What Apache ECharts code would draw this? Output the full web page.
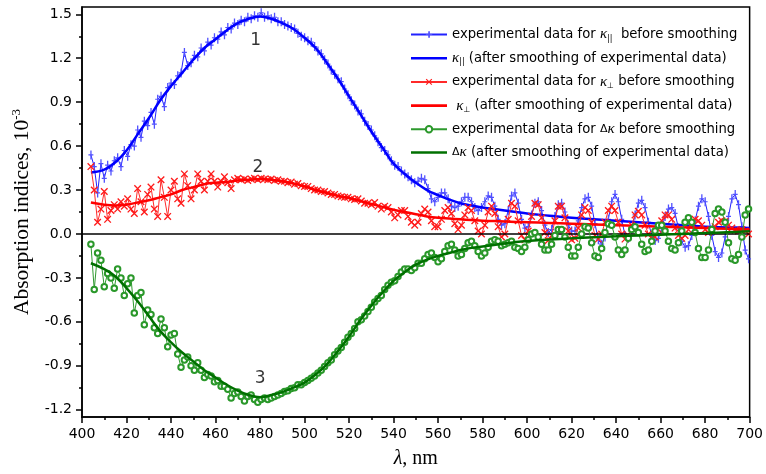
<!DOCTYPE html>
<html>
<head>
<meta charset="utf-8">
<script src="https://cdn.jsdelivr.net/npm/echarts@6/dist/echarts.min.js"></script>
<style>html,body{margin:0;padding:0;background:#fff}#c{width:766px;height:474px}</style>
</head>
<body>
<div id="c"></div>
<script>
// wavelength grid of the experimental data, nm
const lambda = [404,405.5,407,408.5,410,411.5,413,414.5,416,417.5,
419,420.5,422,423.5,425,426.5,428,429.5,431,432.5,
434,435.5,437,438.5,440,441.5,443,444.5,446,447.5,
449,450.5,452,453.5,455,456.5,458,459.5,461,462.5,
464,465.5,467,468.5,470,471.5,473,474.5,476,477.5,
479,480.5,482,483.5,485,486.5,488,489.5,491,492.5,
494,495.5,497,498.5,500,501.5,503,504.5,506,507.5,
509,510.5,512,513.5,515,516.5,518,519.5,521,522.5,
524,525.5,527,528.5,530,531.5,533,534.5,536,537.5,
539,540.5,542,543.5,545,546.5,548,549.5,551,552.5,
554,555.5,557,558.5,560,561.5,563,564.5,566,567.5,
569,570.5,572,573.5,575,576.5,578,579.5,581,582.5,
584,585.5,587,588.5,590,591.5,593,594.5,596,597.5,
599,600.5,602,603.5,605,606.5,608,609.5,611,612.5,
614,615.5,617,618.5,620,621.5,623,624.5,626,627.5,
629,630.5,632,633.5,635,636.5,638,639.5,641,642.5,
644,645.5,647,648.5,650,651.5,653,654.5,656,657.5,
659,660.5,662,663.5,665,666.5,668,669.5,671,672.5,
674,675.5,677,678.5,680,681.5,683,684.5,686,687.5,
689,690.5,692,693.5,695,696.5,698,699.5];

// experimental kappa_parallel (before smoothing)
const kParExp = [0.54,0.46,0.28,0.48,0.38,0.47,0.43,0.50,0.52,0.46,
0.57,0.53,0.61,0.60,0.71,0.66,0.77,0.74,0.83,0.75,
0.92,0.94,0.87,1.00,1.03,1.02,1.08,1.10,1.24,1.15,
1.17,1.22,1.21,1.27,1.25,1.31,1.29,1.34,1.33,1.38,
1.36,1.41,1.40,1.44,1.43,1.46,1.45,1.48,1.47,1.49,
1.48,1.51,1.48,1.49,1.47,1.48,1.45,1.45,1.43,1.42,
1.41,1.40,1.37,1.35,1.34,1.32,1.31,1.28,1.25,1.23,
1.19,1.16,1.12,1.09,1.06,1.04,0.99,0.95,0.91,0.88,
0.84,0.82,0.77,0.74,0.71,0.67,0.63,0.59,0.57,0.54,
0.50,0.47,0.46,0.43,0.41,0.39,0.37,0.35,0.36,0.38,
0.37,0.31,0.24,0.22,0.25,0.28,0.28,0.24,0.19,0.18,
0.19,0.22,0.25,0.25,0.22,0.18,0.16,0.18,0.22,0.26,
0.25,0.19,0.10,0.06,0.07,0.16,0.26,0.28,0.21,0.10,
0.04,0.05,0.13,0.21,0.22,0.16,0.06,0.01,0.03,0.12,
0.20,0.21,0.15,0.06,0.02,0.02,0.09,0.18,0.24,0.25,
0.19,0.07,-0.04,-0.07,-0.02,0.10,0.22,0.27,0.22,0.10,
-0.01,-0.03,0.03,0.13,0.21,0.23,0.18,0.08,-0.01,-0.045,
-0.03,0.04,0.12,0.17,0.18,0.14,0.04,-0.05,-0.09,-0.08,
-0.01,0.09,0.19,0.24,0.22,0.12,-0.01,-0.12,-0.16,-0.13,
-0.02,0.12,0.24,0.27,0.20,0.05,-0.11,-0.17];

// experimental kappa_perp (before smoothing)
const kPerpExp = [0.46,0.30,0.08,0.17,0.29,0.10,0.16,0.20,0.17,0.22,
0.19,0.24,0.17,0.14,0.31,0.22,0.15,0.27,0.32,0.17,
0.12,0.37,0.25,0.12,0.30,0.36,0.24,0.21,0.41,0.33,
0.24,0.30,0.41,0.36,0.30,0.36,0.41,0.36,0.32,0.36,
0.39,0.35,0.31,0.37,0.38,0.37,0.375,0.365,0.375,0.38,
0.37,0.38,0.375,0.37,0.375,0.365,0.37,0.36,0.36,0.35,
0.355,0.34,0.345,0.33,0.325,0.325,0.31,0.30,0.30,0.29,
0.29,0.28,0.27,0.27,0.26,0.255,0.25,0.25,0.24,0.235,
0.24,0.225,0.21,0.21,0.20,0.215,0.19,0.17,0.19,0.18,
0.15,0.11,0.13,0.16,0.16,0.12,0.08,0.06,0.08,0.14,
0.17,0.15,0.09,0.05,0.05,0.10,0.16,0.18,0.14,0.07,
0.03,0.06,0.13,0.18,0.16,0.09,0.02,0.00,0.06,0.15,
0.19,0.14,0.05,-0.02,0.00,0.10,0.21,0.19,0.09,-0.01,
-0.04,0.02,0.12,0.21,0.20,0.11,0.01,-0.045,-0.01,0.09,
0.19,0.19,0.11,0.02,-0.04,-0.03,0.04,0.13,0.18,0.16,
0.08,-0.01,-0.035,0.00,0.08,0.16,0.19,0.16,0.08,0.00,
-0.035,-0.01,0.06,0.13,0.155,0.13,0.06,0.00,-0.03,-0.02,
0.03,0.09,0.13,0.13,0.10,0.04,-0.01,-0.03,-0.01,0.03,
0.07,0.10,0.09,0.06,0.03,0.01,0.02,0.05,0.08,0.09,
0.085,0.06,0.04,0.025,0.02,0.03,0.02,0.00];

// experimental delta kappa (before smoothing)
const dKExp = [-0.07,-0.38,-0.13,-0.18,-0.36,-0.27,-0.30,-0.37,-0.24,-0.30,
-0.42,-0.34,-0.30,-0.54,-0.42,-0.40,-0.62,-0.52,-0.55,-0.64,
-0.68,-0.58,-0.64,-0.77,-0.69,-0.68,-0.82,-0.91,-0.86,-0.84,
-0.90,-0.93,-0.88,-0.93,-0.98,-0.96,-0.97,-1.01,-1.00,-1.04,
-1.04,-1.06,-1.12,-1.09,-1.08,-1.11,-1.14,-1.11,-1.10,-1.13,
-1.15,-1.13,-1.12,-1.13,-1.12,-1.11,-1.10,-1.09,-1.075,-1.07,
-1.055,-1.05,-1.03,-1.03,-1.015,-1.00,-0.985,-0.97,-0.95,-0.93,
-0.905,-0.88,-0.86,-0.825,-0.80,-0.775,-0.74,-0.705,-0.68,-0.645,
-0.60,-0.585,-0.56,-0.53,-0.50,-0.465,-0.44,-0.42,-0.38,-0.35,
-0.33,-0.32,-0.29,-0.26,-0.24,-0.24,-0.25,-0.23,-0.20,-0.20,
-0.17,-0.14,-0.13,-0.16,-0.19,-0.17,-0.12,-0.08,-0.07,-0.11,
-0.15,-0.14,-0.10,-0.06,-0.05,-0.08,-0.12,-0.15,-0.13,-0.09,
-0.05,-0.04,-0.05,-0.08,-0.07,-0.06,-0.05,-0.09,-0.10,-0.12,
-0.09,-0.04,0.00,0.01,-0.02,-0.07,-0.11,-0.11,-0.07,-0.01,
0.03,0.03,-0.02,-0.09,-0.15,-0.15,-0.09,0.00,0.05,0.04,
-0.06,-0.15,-0.16,-0.10,0.01,0.07,0.06,-0.02,-0.11,-0.14,
-0.11,-0.03,0.03,0.05,0.01,-0.07,-0.12,-0.11,-0.05,0.02,
0.06,0.06,0.02,-0.05,-0.10,-0.11,-0.06,0.02,0.08,0.11,
0.08,0.01,-0.10,-0.16,-0.16,-0.11,0.03,0.14,0.17,0.15,
0.08,-0.06,-0.17,-0.18,-0.14,-0.02,0.13,0.17];

// smoothed curves
const smoothLambda = [404,410,415,420,425,430,435,440,445,450,455,460,465,470,475,480,485,490,495,500,
505,510,515,520,525,530,535,540,545,550,555,560,565,570,575,580,585,590,595,600,
610,620,630,640,650,660,670,680,690,700];
const kParSmooth = [0.42,0.44,0.49,0.57,0.68,0.79,0.91,1.01,1.10,1.19,1.27,1.33,1.39,1.44,1.47,1.485,1.47,1.44,1.40,1.34,
1.27,1.17,1.06,0.94,0.82,0.70,0.59,0.48,0.41,0.35,0.30,0.265,0.235,0.21,0.195,0.18,0.17,0.16,0.15,0.14,
0.125,0.11,0.10,0.09,0.08,0.07,0.06,0.05,0.045,0.04];
const kPerpSmooth = [0.215,0.20,0.195,0.20,0.215,0.23,0.25,0.27,0.30,0.32,0.34,0.35,0.355,0.365,0.37,0.375,0.37,0.36,0.345,0.325,
0.30,0.28,0.26,0.245,0.225,0.205,0.185,0.165,0.15,0.135,0.12,0.11,0.105,0.10,0.095,0.09,0.088,0.085,0.082,0.08,
0.075,0.07,0.065,0.06,0.055,0.05,0.045,0.04,0.035,0.03];
const dKSmooth = [-0.20,-0.24,-0.29,-0.37,-0.46,-0.56,-0.66,-0.74,-0.81,-0.87,-0.93,-0.98,-1.03,-1.07,-1.10,-1.115,-1.10,-1.08,-1.05,-1.015,
-0.96,-0.89,-0.80,-0.70,-0.59,-0.49,-0.40,-0.32,-0.26,-0.21,-0.175,-0.15,-0.13,-0.11,-0.095,-0.085,-0.075,-0.065,-0.055,-0.048,
-0.038,-0.03,-0.022,-0.016,-0.01,-0.005,0.0,0.006,0.012,0.018];

// axis ticks
const yMajorTicks = [-1.2,-0.9,-0.6,-0.3,0,0.3,0.6,0.9,1.2,1.5];
const yMinorTicks = [-1.05,-0.75,-0.45,-0.15,0.15,0.45,0.75,1.05,1.35];

// curve number annotations
const annotLambda = [478, 479, 480];
const annotValue = [1.32, 0.45, -0.99];
const annotText = ['1', '2', '3'];

const names = ['expPar','smPar','expPerp','smPerp','expD','smD'];
const legendText = {
  expPar: 'experimental data for {k|κ}{sub|||}  before smoothing',
  smPar: '{k|κ}{sub|||} (after smoothing of experimental data)',
  expPerp: 'experimental data for {k|κ}{sub|⊥} before smoothing',
  smPerp: ' {k|κ}{sub|⊥} (after smoothing of experimental data)',
  expD: 'experimental data for {d|Δ}{k|κ} before smoothing',
  smD: '{d|Δ}{k|κ} (after smoothing of experimental data)'
};
const thickLineIcon = 'path://M0,0h36v2.6h-36z';

const pair = (xs, ys) => xs.map((x, i) => [x, ys[i]]);
const plusSym = 'path://M1.9,0h1.3v9h-1.3z M0,3.9h5v1.2h-5z';
const crossSym = 'path://M0,1L1,0L8,7L7,8Z M7,0L8,1L1,8L0,7Z';
const tickFont = 'DejaVu Sans';

const chart = echarts.init(document.getElementById('c'), null, {renderer: 'canvas'});
chart.setOption({
  animation: false,
  backgroundColor: '#fff',
  grid: {left: 82, right: 10, top: 7, bottom: 56, show: true, borderColor: '#000', borderWidth: 1.5, backgroundColor: 'transparent'},
  legend: {
    data: names.map(n => n.startsWith('sm') ? {name: n, icon: thickLineIcon} : {name: n}),
    orient: 'vertical',
    left: 410, top: 27, padding: 0,
    itemWidth: 36, itemHeight: 8, itemGap: 8.2,
    formatter: n => legendText[n],
    textStyle: {
      fontFamily: 'DejaVu Sans', fontSize: 13.2, color: '#000',
      rich: {
        k: {fontFamily: 'Liberation Serif', fontStyle: 'italic', fontSize: 15, color: '#000'},
        d: {fontFamily: 'DejaVu Sans', fontSize: 11, color: '#000'},
        sub: {fontFamily: 'DejaVu Sans', fontSize: 8, color: '#000', padding: [8, 0, 0, 0]}
      }
    }
  },
  xAxis: {
    type: 'value', min: 400, max: 700, interval: 20,
    axisLine: {show: true, onZero: false, lineStyle: {color: '#000', width: 1.5}},
    axisTick: {show: true, length: 6, lineStyle: {color: '#000', width: 1.5}},
    minorTick: {show: true, splitNumber: 2, length: 3, lineStyle: {color: '#000', width: 1.5}},
    splitLine: {show: false},
    axisLabel: {fontFamily: tickFont, fontSize: 14, color: '#000', margin: 10},
    name: '{l|λ}, nm',
    nameLocation: 'middle', nameGap: 32,
    nameTextStyle: {fontFamily: 'Liberation Serif', fontSize: 20, color: '#000',
      rich: {l: {fontFamily: 'Liberation Serif', fontStyle: 'italic', fontSize: 20, color: '#000'}}}
  },
  yAxis: [{
    type: 'value', min: -1.25, max: 1.55, position: 'left',
    axisLine: {show: true, onZero: false, lineStyle: {color: '#000', width: 1.5}},
    axisTick: {show: true, length: 6, customValues: yMajorTicks, lineStyle: {color: '#000', width: 1.5}},
    splitLine: {show: false},
    axisLabel: {customValues: yMajorTicks, formatter: v => v.toFixed(1), fontFamily: tickFont, fontSize: 14, color: '#000', margin: 10},
    name: 'Absorption indices, 10{sup|-3}',
    nameLocation: 'middle', nameGap: 39, nameRotate: 90,
    nameTextStyle: {fontFamily: 'Liberation Serif', fontSize: 21.5, color: '#000',
      rich: {sup: {fontFamily: 'Liberation Serif', fontSize: 13, color: '#000', padding: [0, 0, 12, 0]}}}
  }, {
    type: 'value', min: -1.25, max: 1.55, position: 'left',
    axisLine: {show: false},
    axisTick: {show: true, length: 3, customValues: yMinorTicks, lineStyle: {color: '#000', width: 1.5}},
    axisLabel: {show: false},
    splitLine: {show: false}
  }],
  series: [
    {name: 'expPar', type: 'line', data: pair(lambda, kParExp), symbol: plusSym, symbolSize: [5, 9], showAllSymbol: true,
      lineStyle: {color: '#2222ff', width: 1}, itemStyle: {color: '#5050ff'}, z: 2},
    {name: 'smPar', type: 'line', data: pair(smoothLambda, kParSmooth), smooth: 0.4, showSymbol: false, symbol: 'none',
      lineStyle: {color: '#0000ff', width: 2.5}, itemStyle: {color: '#0000ff'}, z: 3},
    {name: 'expPerp', type: 'line', data: pair(lambda, kPerpExp), symbol: crossSym, symbolSize: 7.5, showAllSymbol: true,
      lineStyle: {color: '#ff2a2a', width: 1}, itemStyle: {color: '#ff1a1a'}, z: 4},
    {name: 'smPerp', type: 'line', data: pair(smoothLambda, kPerpSmooth), smooth: 0.4, showSymbol: false, symbol: 'none',
      lineStyle: {color: '#ff0000', width: 2.5}, itemStyle: {color: '#ff0000'}, z: 5},
    {name: 'expD', type: 'line', data: pair(lambda, dKExp), symbol: 'emptyCircle', symbolSize: 5.5, showAllSymbol: true,
      lineStyle: {color: '#2e9a2e', width: 1}, itemStyle: {color: '#2a982a', borderWidth: 1}, z: 6},
    {name: 'smD', type: 'line', data: pair(smoothLambda, dKSmooth), smooth: 0.4, showSymbol: false, symbol: 'none',
      lineStyle: {color: '#007000', width: 2.5}, itemStyle: {color: '#007000'}, z: 7,
      markLine: {silent: true, symbol: ['none', 'none'], label: {show: false},
        lineStyle: {color: '#000', width: 1.5, type: 'solid'}, data: [{yAxis: 0}]}},
    {name: 'annot', type: 'scatter', symbolSize: 0, z: 8,
      data: annotLambda.map((x, i) => [x, annotValue[i], annotText[i]]),
      label: {show: true, position: 'inside', formatter: p => p.data[2],
        fontFamily: 'DejaVu Sans', fontSize: 17, color: '#000'}}
  ]
});
</script>
</body>
</html>
